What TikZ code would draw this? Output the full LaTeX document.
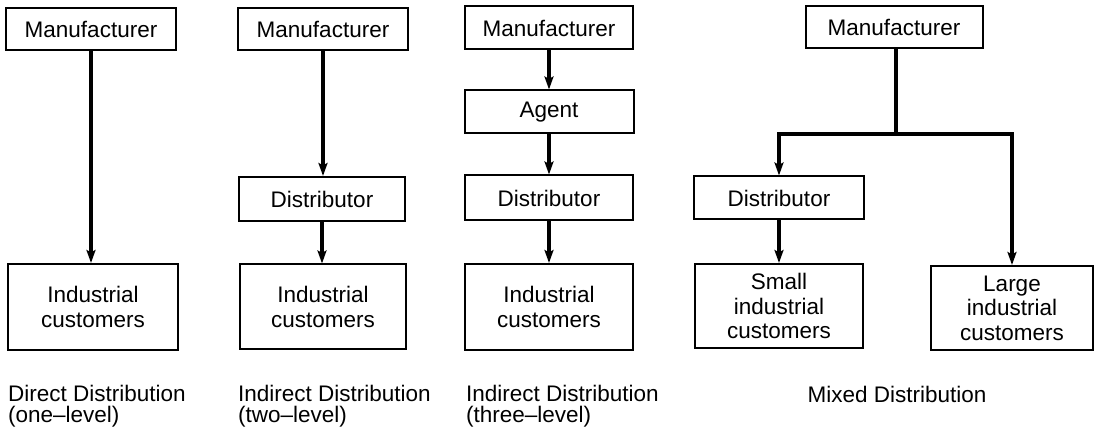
\documentclass[tikz,border=0pt]{standalone}
\usepackage{fontspec}
\setmainfont{Liberation Sans}
\usetikzlibrary{arrows.meta}
\begin{document}
\begin{tikzpicture}[x=1pt,y=-1pt,
  box/.style={draw, line width=2pt, inner sep=0pt, align=center,
    font=\fontsize{22.5}{24.5}\selectfont},
  flow/.style={line width=3.2pt},
  arr/.style={flow, -{Stealth[length=13pt,width=9pt,inset=2.5pt]}},
  caption/.style={inner sep=0pt, align=left, anchor=north west,
    font=\fontsize{22.5}{21}\selectfont}]
\useasboundingbox (0,0) rectangle (1096,430);

% Direct distribution
\node[box, minimum width=170pt, minimum height=42pt] (m1) at (91,29) {Manufacturer};
\node[box, minimum width=170pt, minimum height=86pt] (c1) at (93,307) {Industrial\\customers};
\draw[arr] (m1.south) -- (c1.north -| m1.south);
\node[caption] (t1) at (8,385) {Direct Distribution\\(one–level)};

% Indirect distribution, two levels
\node[box, minimum width=170pt, minimum height=42pt] (m2) at (323,29) {Manufacturer};
\node[box, minimum width=166pt, minimum height=44pt] (d2) at (322,199) {Distributor};
\node[box, minimum width=166pt, minimum height=85pt] (c2) at (323,307) {Industrial\\customers};
\draw[arr] (m2.south) -- (d2.north -| m2.south);
\draw[arr] (d2.south) -- (c2.north -| d2.south);
\node[caption] (t2) at (238,385) {Indirect Distribution\\(two–level)};

% Indirect distribution, three levels
\node[box, minimum width=168pt, minimum height=43pt] (m3) at (549,28) {Manufacturer};
\node[box, minimum width=169pt, minimum height=43pt] (a3) at (549,112) {Agent};
\node[box, minimum width=168pt, minimum height=45pt] (d3) at (549,198) {Distributor};
\node[box, minimum width=168pt, minimum height=86pt] (c3) at (549,307) {Industrial\\customers};
\draw[arr] (m3) -- (a3);
\draw[arr] (a3) -- (d3);
\draw[arr] (d3) -- (c3);
\node[caption] (t3) at (466,385) {Indirect Distribution\\(three–level)};

% Mixed distribution
\node[box, minimum width=177pt, minimum height=42pt] (m4) at (894,27) {Manufacturer};
\node[box, minimum width=170pt, minimum height=43pt] (d4) at (779,198) {Distributor};
\node[box, minimum width=168pt, minimum height=84pt] (s4) at (779,306) {Small\\industrial\\customers};
\node[box, minimum width=162pt, minimum height=84pt] (l4) at (1012,308) {Large\\industrial\\customers};
\coordinate (j4) at (896,134);
\draw[flow] (m4.south -| j4) -- (j4);
\draw[arr] ([xshift=1.6pt]j4) -| (d4);
\draw[arr] ([xshift=-1.6pt]j4) -| (l4);
\draw[arr] (d4) -- (s4);
\node[caption, anchor=north] (t4) at (897,386) {Mixed Distribution};
\end{tikzpicture}
\end{document}
